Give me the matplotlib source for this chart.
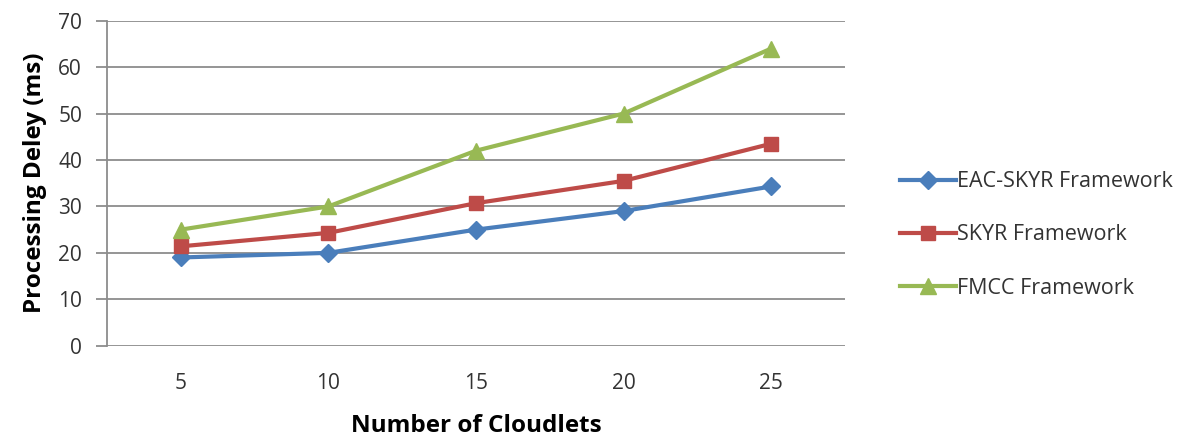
import matplotlib.pyplot as plt
from matplotlib.ticker import MultipleLocator

cloudlets = ['5', '10', '15', '20', '25']
eac_skyr = [19, 20, 25, 29, 34.3]
skyr = [21.4, 24.3, 30.7, 35.5, 43.5]
fmcc = [25, 30, 42, 50, 64]

plt.rcParams['font.family'] = ['Open Sans', 'DejaVu Sans']

fig = plt.figure(figsize=(12.01, 4.44), dpi=100)
ax = fig.add_axes([0.0891, 0.2214, 0.6145, 0.732])

x = range(len(cloudlets))
ax.plot(x, eac_skyr, color='#4A7EBB', lw=3, marker='D', ms=9, label='EAC-SKYR Framework')
ax.plot(x, skyr, color='#BE4B48', lw=3, marker='s', ms=10.5, label='SKYR Framework')
ax.plot(x, fmcc, color='#98B954', lw=3, marker='^', ms=12, label='FMCC Framework')

ax.set_xlim(-0.5, 4.5)
ax.set_ylim(0, 70)
ax.yaxis.set_major_locator(MultipleLocator(10))
ax.set_xticks(list(x))
ax.set_xticklabels(cloudlets)
ax.grid(axis='y', color='#8c8c8c', lw=1.3)
ax.set_axisbelow(True)
for s in ['top', 'right', 'bottom']:
    ax.spines[s].set_visible(False)
ax.spines['left'].set_color('#8c8c8c')
ax.spines['left'].set_linewidth(1.3)
ax.tick_params(axis='y', length=8, width=1.3, color='#8c8c8c', labelsize=15, pad=10, labelcolor='#333333')
ax.tick_params(axis='x', length=0, labelsize=15, pad=20, labelcolor='#333333')

ax.set_xlabel('Number of Cloudlets', fontsize=17.5, fontweight='bold', labelpad=14)
ax.set_ylabel('Processing Deley (ms)', fontsize=17.5, fontweight='bold', labelpad=8)

fig.legend(loc='center left', bbox_to_anchor=(0.733, 0.471), frameon=False,
           fontsize=15.5, handlelength=2.6, handletextpad=0.05, labelspacing=1.5,
           labelcolor='#333333')

fig.savefig('out.png', dpi=100)
